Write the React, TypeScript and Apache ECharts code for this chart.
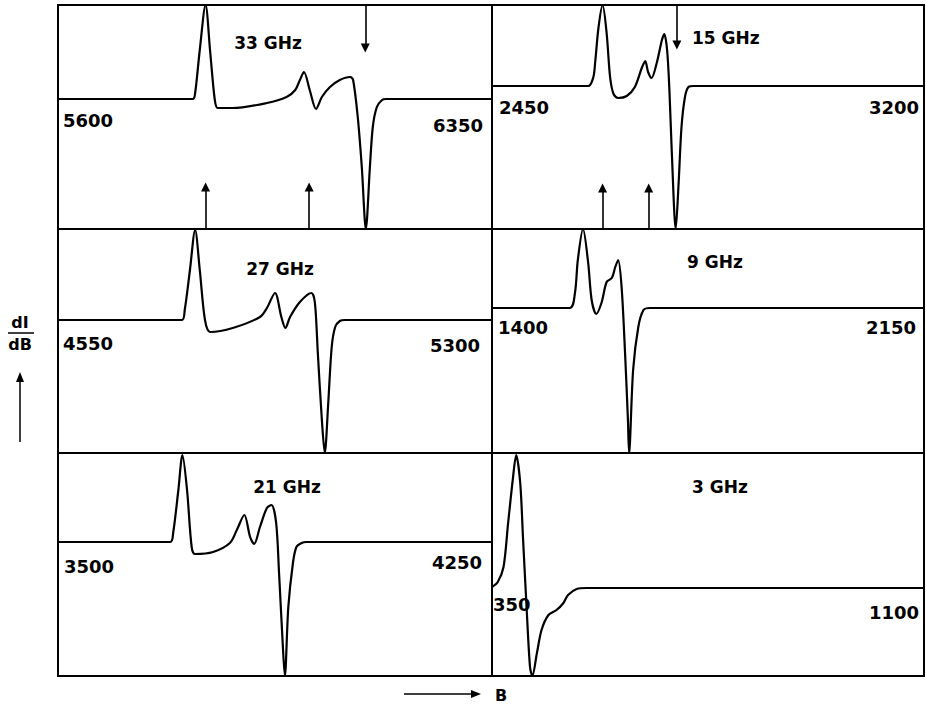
import React, { useEffect, useRef } from "react";
import * as echarts from "echarts";

// ---------- data (field B, derivative intensity dI/dB in arbitrary units) ----------
const PANEL_LABELS = ["33 GHz", "15 GHz", "27 GHz", "9 GHz", "21 GHz", "3 GHz"];
const FIELD_MIN = [5600, 2450, 4550, 1400, 3500, 350];
const FIELD_MAX = [6350, 3200, 5300, 2150, 4250, 1100];
const INT_MIN = [-130, -143, -133, -145, -134, -88];
const INT_MAX = [94, 81, 91, 79, 89, 135];

const SPEC_33GHZ: number[][] = [
  [5600, 0], [5833, 0], [5837, 6], [5845, 49], [5855, 94], [5863, 47], [5871, -1],
  [5876, -9], [5902, -9], [5961, -4], [5995, 2], [6010, 9], [6018, 19], [6025, 27],
  [6035, 9], [6046, -10], [6056, 2], [6070, 12], [6087, 19], [6105, 22], [6110, 19],
  [6118, -18], [6125, -68], [6132, -130], [6139, -68], [6144, -28], [6151, -8],
  [6160, -1], [6167, 0], [6350, 0],
];
const SPEC_15GHZ: number[][] = [
  [2450, 0], [2617, 0], [2626, 9], [2629, 23], [2635, 59], [2642, 81], [2649, 53],
  [2655, 9], [2661, -8], [2669, -12], [2684, -10], [2698, -1], [2710, 18], [2716, 25],
  [2721, 14], [2727, 8], [2736, 23], [2745, 46], [2749, 52], [2754, 36], [2758, -4],
  [2762, -64], [2769, -143], [2774, -97], [2779, -41], [2785, -11], [2791, -1],
  [2800, 0], [3200, 0],
];
const SPEC_27GHZ: number[][] = [
  [4550, 0], [4764, 0], [4769, 10], [4778, 50], [4787, 90], [4795, 50], [4804, 0],
  [4813, -12], [4852, -8], [4899, 3], [4911, 12], [4925, 27], [4936, 3], [4943, -8],
  [4951, 3], [4968, 18], [4988, 27], [4994, 17], [4999, -33], [5006, -100],
  [5011, -133], [5017, -83], [5023, -27], [5029, -7], [5037, -1], [5046, 0], [5300, 0],
];
const SPEC_9GHZ: number[][] = [
  [1400, 0], [1535, 0], [1544, 15], [1549, 48], [1558, 79], [1567, 45], [1573, 8],
  [1581, -6], [1590, 5], [1599, 26], [1608, 30], [1614, 41], [1619, 48], [1625, 21],
  [1631, -45], [1636, -112], [1638, -145], [1645, -62], [1654, -19], [1663, -2],
  [1674, 0], [2150, 0],
];
const SPEC_21GHZ: number[][] = [
  [3500, 0], [3694, 0], [3699, 9], [3708, 52], [3715, 87], [3723, 52], [3731, -5],
  [3737, -12], [3768, -10], [3797, -1], [3809, 12], [3822, 27], [3832, 5], [3839, -2],
  [3849, 15], [3861, 34], [3869, 37], [3877, 19], [3882, -31], [3888, -98],
  [3892, -134], [3898, -65], [3906, -21], [3912, -5], [3921, -1], [3929, 0], [4250, 0],
];
const SPEC_3GHZ: number[][] = [
  [350, 1], [360, 6], [370, 21], [378, 65], [386, 108], [392, 133], [399, 105],
  [404, 48], [410, -19], [416, -79], [420, -88], [428, -65], [436, -42], [448, -27],
  [462, -22], [474, -15], [482, -7], [497, -1], [514, 0], [1100, 0],
];
const SPECTRA = [SPEC_33GHZ, SPEC_15GHZ, SPEC_27GHZ, SPEC_9GHZ, SPEC_21GHZ, SPEC_3GHZ];

// field positions marked by arrows
const UP_ARROWS_33 = [5855, 6034];
const DOWN_ARROWS_33 = [6131];
const UP_ARROWS_15 = [2642, 2722];
const DOWN_ARROWS_15 = [2771];
const UP_TIP = [-88, -102];
const DOWN_TIP = [51, 41];

// ---------- layout ----------
const COL_LEFT = [58, 492];
const COL_WIDTH = [434, 432];
const ROW_TOP = [5, 229, 453];
const ROW_HEIGHT = [224, 224, 223];

const FONT = '"DejaVu Sans", "Liberation Sans", Arial, sans-serif';

// label placements per panel: [x, y, align] for name, min label, max label
const NAME_POS: [number, number, string][] = [
  [268, 43, "center"], [692, 38, "left"], [280, 269, "center"],
  [687, 262, "left"], [287, 487, "center"], [692, 487, "left"],
];
const MIN_POS: [number, number][] = [[63, 120], [499, 107], [63, 343], [498, 327], [64, 566], [493, 604]];
const MAX_POS: [number, number][] = [[483, 125], [919, 107], [480, 345], [916, 327], [482, 562], [919, 612]];

export default function App() {
  const ref = useRef<HTMLDivElement>(null);
  useEffect(() => {
    if (!ref.current) return;
    const chart = echarts.init(ref.current, undefined, { renderer: "svg" });

    const grids: any[] = [];
    const xAxes: any[] = [];
    const yAxes: any[] = [];
    const series: any[] = [];
    for (let i = 0; i < 6; i++) {
      const col = i % 2;
      const row = Math.floor(i / 2);
      grids.push({
        left: COL_LEFT[col], top: ROW_TOP[row], width: COL_WIDTH[col], height: ROW_HEIGHT[row],
        show: true, borderColor: "#000", borderWidth: 2, backgroundColor: "transparent",
      });
      xAxes.push({
        type: "value", gridIndex: i, min: FIELD_MIN[i], max: FIELD_MAX[i],
        axisLine: { show: false }, axisTick: { show: false }, axisLabel: { show: false }, splitLine: { show: false },
      });
      yAxes.push({
        type: "value", gridIndex: i, min: INT_MIN[i], max: INT_MAX[i],
        axisLine: { show: false }, axisTick: { show: false }, axisLabel: { show: false }, splitLine: { show: false },
      });
      const s: any = {
        type: "line", xAxisIndex: i, yAxisIndex: i, data: SPECTRA[i], showSymbol: false,
        smooth: 0.3, lineStyle: { color: "#000", width: 2.2 }, silent: true,
      };
      if (i < 2) {
        const ups = i === 0 ? UP_ARROWS_33 : UP_ARROWS_15;
        const downs = i === 0 ? DOWN_ARROWS_33 : DOWN_ARROWS_15;
        const data: any[] = [];
        ups.forEach((b) => data.push([{ coord: [b, INT_MIN[i]] }, { coord: [b, UP_TIP[i]] }]));
        downs.forEach((b) => data.push([{ coord: [b, INT_MAX[i]] }, { coord: [b, DOWN_TIP[i]] }]));
        s.markLine = {
          silent: true, symbol: ["none", "triangle"], symbolSize: 9,
          label: { show: false }, lineStyle: { color: "#000", width: 1.6, type: "solid" },
          emphasis: { disabled: true }, data,
        };
      }
      series.push(s);
    }

    const graphic: any[] = [];
    const txt = (x: number, y: number, text: string, align: string, size: number) => ({
      type: "text", x, y, silent: true,
      style: { text, fill: "#000", fontSize: size, fontWeight: "bold", fontFamily: FONT, align, verticalAlign: "middle" },
    });
    for (let i = 0; i < 6; i++) {
      graphic.push(txt(NAME_POS[i][0], NAME_POS[i][1], PANEL_LABELS[i], NAME_POS[i][2], 17));
      graphic.push(txt(MIN_POS[i][0], MIN_POS[i][1], String(FIELD_MIN[i]), "left", 18));
      graphic.push(txt(MAX_POS[i][0], MAX_POS[i][1], String(FIELD_MAX[i]), "right", 18));
    }
    // y-axis quantity: dI/dB with upward arrow
    graphic.push(txt(20, 322, "dI", "center", 16));
    graphic.push({ type: "line", silent: true, shape: { x1: 8, y1: 333, x2: 34, y2: 333 }, style: { stroke: "#000", lineWidth: 1.5 } });
    graphic.push(txt(20, 344, "dB", "center", 16));
    graphic.push({ type: "line", silent: true, shape: { x1: 20, y1: 442, x2: 20, y2: 380 }, style: { stroke: "#000", lineWidth: 1.5 } });
    graphic.push({ type: "polygon", silent: true, shape: { points: [[20, 372], [16, 382], [24, 382]] }, style: { fill: "#000" } });
    // x-axis quantity: B with right arrow
    graphic.push({ type: "line", silent: true, shape: { x1: 404, y1: 694, x2: 472, y2: 694 }, style: { stroke: "#000", lineWidth: 1.5 } });
    graphic.push({ type: "polygon", silent: true, shape: { points: [[481, 694], [471, 690], [471, 698]] }, style: { fill: "#000" } });
    graphic.push(txt(495, 695, "B", "left", 16));

    chart.setOption({
      animation: false,
      backgroundColor: "#fff",
      grid: grids,
      xAxis: xAxes,
      yAxis: yAxes,
      series,
      graphic,
    });
    return () => chart.dispose();
  }, []);
  return <div ref={ref} style={{ position: "fixed", left: 0, top: 0, width: 926, height: 707 }} />;
}
